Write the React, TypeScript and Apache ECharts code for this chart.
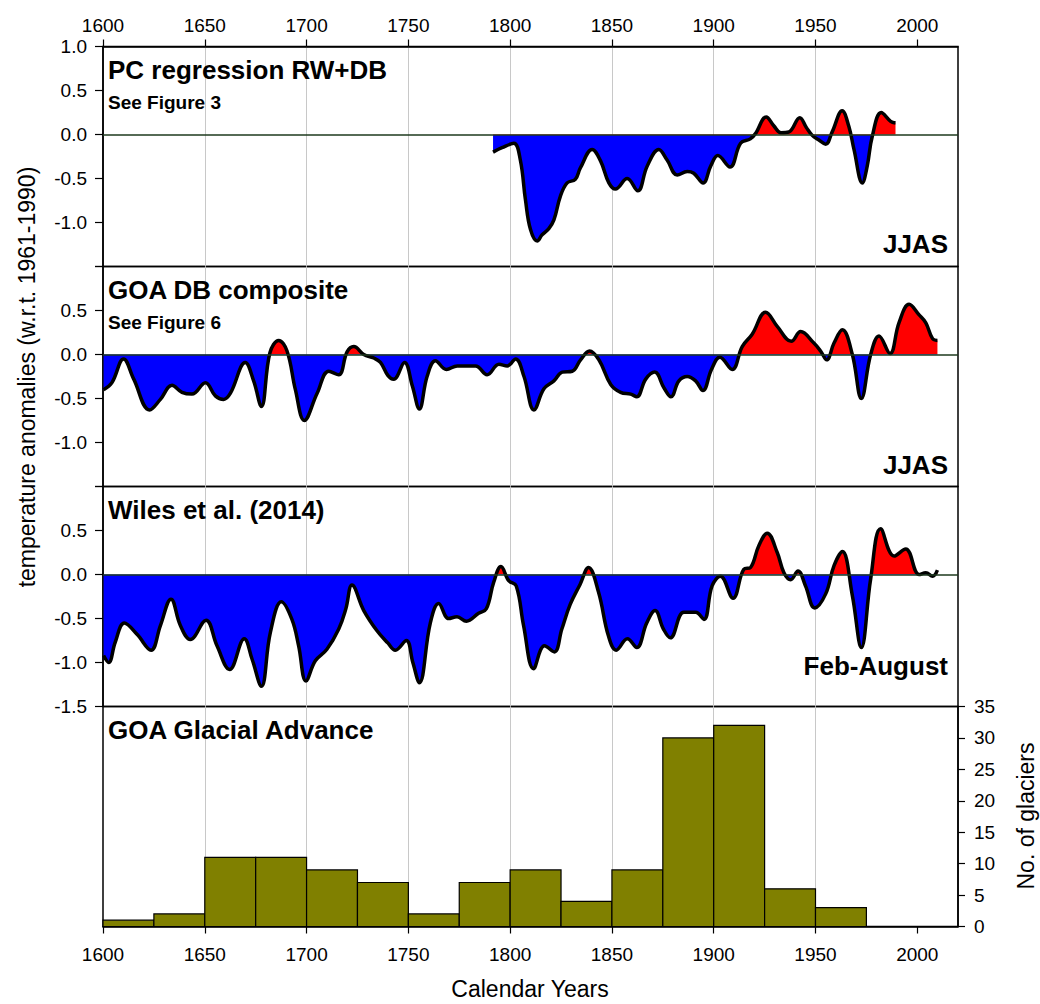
import React, { useEffect, useRef } from "react";
import * as echarts from "echarts";

const FONT = '"Liberation Sans", Arial, Helvetica, sans-serif';

const yearTicks = [1600, 1650, 1700, 1750, 1800, 1850, 1900, 1950, 2000];
const tempTicks = [-1.5, -1.0, -0.5, 0.0, 0.5, 1.0];
const glacierTicks = [0, 5, 10, 15, 20, 25, 30, 35];

const panelTitles = ["PC regression RW+DB", "GOA DB composite", "Wiles et al. (2014)", "GOA Glacial Advance"];
const panelNotes = ["See Figure 3", "See Figure 6"];
const panelSeasons = ["JJAS", "JJAS", "Feb-August"];

// [year, temperature anomaly]
const pcRegression: [number, number][] = [
  [1791.6, -0.2], [1796, -0.15], [1801.8, -0.1], [1805, -0.29], [1807.5, -0.74], [1810, -1.08],
  [1813.3, -1.21], [1815.7, -1.14], [1819, -1.07], [1821.5, -0.97], [1824.7, -0.7], [1828, -0.55],
  [1832, -0.51], [1834.5, -0.38], [1840.3, -0.17], [1844.4, -0.3], [1848.5, -0.55], [1851.7, -0.62],
  [1857.5, -0.5], [1862.7, -0.64], [1867.3, -0.36], [1873, -0.17], [1877.1, -0.29], [1882.1, -0.46],
  [1887, -0.42], [1890.2, -0.44], [1894.8, -0.55], [1898.5, -0.36], [1902, -0.24], [1908, -0.37],
  [1913.2, -0.1], [1918, -0.05], [1920.5, 0.01], [1925.8, 0.2], [1929.5, 0.1], [1933, 0.02],
  [1937, 0.03], [1942.3, 0.19], [1945.5, 0.08], [1948.4, -0.01], [1951.5, -0.06], [1955, -0.11],
  [1958.2, 0.03], [1963.1, 0.27], [1966.4, 0.09], [1968.9, -0.17], [1973, -0.55], [1975.4, -0.36],
  [1977.9, -0.02], [1982.3, 0.25], [1986.9, 0.15], [1989.3, 0.13],
];

const goaDbComposite: [number, number][] = [
  [1600.3, -0.4], [1604.4, -0.32], [1610.1, -0.05], [1615.1, -0.28], [1622.9, -0.63], [1628.2, -0.51],
  [1633.9, -0.35], [1638.8, -0.43], [1643.7, -0.45], [1650.3, -0.32], [1655.2, -0.47], [1659.3, -0.51],
  [1662.6, -0.44], [1669.9, -0.09], [1674, -0.3], [1677.8, -0.59], [1682, 0.02], [1686.3, 0.16],
  [1690.4, 0.04], [1694.5, -0.4], [1698.9, -0.75], [1705.2, -0.44], [1710.9, -0.19], [1715.8, -0.23],
  [1719.9, 0.03], [1723.2, 0.09], [1728.1, 0.0], [1733, -0.04], [1736.3, -0.09], [1740, -0.24],
  [1742.8, -0.28], [1748.1, -0.09], [1752, -0.36], [1755.4, -0.62], [1759.2, -0.25], [1763.3, -0.07],
  [1768.7, -0.17], [1774, -0.13], [1783, -0.13], [1788.7, -0.23], [1794.5, -0.11], [1798.6, -0.13],
  [1802.7, -0.05], [1806.8, -0.25], [1811.7, -0.63], [1816.6, -0.39], [1821.5, -0.3], [1825.6, -0.2],
  [1830.5, -0.19], [1834.6, -0.06], [1839, 0.04], [1843.6, -0.06], [1849.4, -0.34], [1854.3, -0.43],
  [1859.2, -0.45], [1862.2, -0.48], [1866.6, -0.28], [1871, -0.2], [1875.6, -0.38], [1879, -0.48],
  [1882.9, -0.3], [1887, -0.25], [1891.1, -0.3], [1894.7, -0.41], [1898.9, -0.17], [1903, -0.03],
  [1909.1, -0.17], [1914, 0.09], [1918.9, 0.23], [1925.5, 0.48], [1931.2, 0.32], [1938.1, 0.15],
  [1942.7, 0.26], [1949.2, 0.13], [1952.5, 0.04], [1955.5, -0.06], [1959.1, 0.13], [1963.2, 0.28],
  [1968.1, 0.0], [1972.5, -0.5], [1977.1, 0.0], [1981.2, 0.21], [1986.6, 0.01], [1991, 0.36],
  [1996, 0.57], [2000.9, 0.45], [2004.2, 0.36], [2007.5, 0.18], [2009.9, 0.16],
];

const wiles2014: [number, number][] = [
  [1600.3, -0.92], [1602.8, -1.0], [1606, -0.77], [1610.5, -0.55], [1616.7, -0.68], [1623.6, -0.86],
  [1628.2, -0.58], [1633.4, -0.28], [1638, -0.58], [1642.9, -0.74], [1650.6, -0.52], [1656, -0.81],
  [1662.2, -1.08], [1669.4, -0.73], [1673.2, -0.96], [1677.8, -1.27], [1682.2, -0.66], [1687.6, -0.31],
  [1692.8, -0.51], [1696.1, -0.81], [1699.7, -1.21], [1704.3, -0.98], [1710, -0.85], [1715.8, -0.62],
  [1719.3, -0.39], [1722.3, -0.12], [1728.1, -0.41], [1734.6, -0.64], [1740, -0.78], [1743.6, -0.86],
  [1749, -0.75], [1752.2, -1.0], [1755.4, -1.23], [1760.8, -0.55], [1764.9, -0.33], [1769.8, -0.5],
  [1773.9, -0.48], [1778.5, -0.53], [1784.5, -0.44], [1788.3, -0.39], [1791.9, -0.09], [1795.5, 0.09],
  [1799.3, -0.07], [1803, -0.13], [1806.6, -0.58], [1811.5, -1.07], [1816.9, -0.81], [1821.7, -0.88],
  [1825.4, -0.62], [1829.5, -0.34], [1834.4, -0.11], [1838.5, 0.08], [1843.4, -0.2], [1848.3, -0.7],
  [1852.1, -0.86], [1857.6, -0.73], [1862.2, -0.83], [1867.1, -0.55], [1871.2, -0.41], [1875.3, -0.62],
  [1878.7, -0.72], [1885.3, -0.43], [1891.1, -0.43], [1895.2, -0.51], [1899.2, -0.13], [1903.3, -0.02],
  [1909.5, -0.27], [1914.8, 0.06], [1918.1, 0.08], [1922.2, 0.33], [1926.3, 0.47], [1931.2, 0.25],
  [1934.5, 0.02], [1937.8, -0.06], [1941.4, 0.04], [1945.1, -0.13], [1949.6, -0.38], [1955, -0.22],
  [1959.1, 0.1], [1963.2, 0.26], [1968.1, -0.24], [1972.5, -0.83], [1977.1, -0.05], [1982, 0.52],
  [1988.6, 0.21], [1994.3, 0.29], [2000.9, 0.0], [2004.2, 0.02], [2007.5, -0.02], [2009.9, 0.05],
];

const binStarts = [1600, 1625, 1650, 1675, 1700, 1725, 1750, 1775, 1800, 1825, 1850, 1875, 1900, 1925, 1950, 1975];
const glacierCounts = [1, 2, 11, 11, 9, 7, 2, 7, 9, 4, 9, 30, 32, 6, 3, 0];
const binWidth = 25;

const tempSeries = [pcRegression, goaDbComposite, wiles2014];
const hiddenTempLabels = [[-1.5], [1.0, -1.5], [1.0]];

const GRID_LEFT = 103;
const GRID_RIGHT = 82;
const GRID_TOP = 46.5;
const PANEL_H = 220;

function buildOption(): any {
  const grids = [0, 1, 2, 3].map((i) => ({
    left: GRID_LEFT,
    right: GRID_RIGHT,
    top: GRID_TOP + i * PANEL_H,
    height: PANEL_H,
    show: true,
    borderColor: "#000",
    borderWidth: 1.5,
    backgroundColor: "transparent",
  }));

  const xAxes = [0, 1, 2, 3].map((i) => {
    const outer = i === 0 || i === 3;
    return {
      type: "value",
      gridIndex: i,
      min: 1600,
      max: 2020,
      interval: 50,
      position: i === 0 ? "top" : "bottom",
      axisLine: { show: outer, onZero: false, lineStyle: { color: "#000", width: 1.5 } },
      axisTick: { show: outer, length: 7, customValues: yearTicks, lineStyle: { color: "#000", width: 1.2 } },
      axisLabel: {
        show: outer,
        customValues: yearTicks,
        formatter: (v: number) => (v % 50 === 0 ? String(v) : ""),
        fontSize: 19,
        fontFamily: FONT,
        color: "#000",
        margin: i === 0 ? 12 : 18,
      },
      splitLine: { show: true, showMinLine: false, showMaxLine: false, lineStyle: { color: "#c8c8c8", width: 1 } },
    };
  });

  const yAxes: any[] = [0, 1, 2].map((i) => ({
    type: "value",
    gridIndex: i,
    min: tempTicks[0],
    max: tempTicks[tempTicks.length - 1],
    interval: 0.5,
    axisLine: { show: true, onZero: false, lineStyle: { color: "#000", width: 1.5 } },
    axisTick: { show: true, length: 8, lineStyle: { color: "#000", width: 1.2 } },
    axisLabel: {
      fontSize: 19,
      fontFamily: FONT,
      color: "#000",
      margin: 16,
      formatter: (v: number) =>
        hiddenTempLabels[i].some((h) => Math.abs(h - v) < 1e-6) ? "" : (Math.abs(v) < 1e-9 ? 0 : v).toFixed(1),
    },
    splitLine: { show: false },
  }));
  yAxes.push({
    type: "value",
    gridIndex: 3,
    position: "right",
    min: glacierTicks[0],
    max: glacierTicks[glacierTicks.length - 1],
    interval: 5,
    axisLine: { show: true, onZero: false, lineStyle: { color: "#000", width: 1.5 } },
    axisTick: { show: true, length: 7, lineStyle: { color: "#000", width: 1.2 } },
    axisLabel: { fontSize: 19, fontFamily: FONT, color: "#000", margin: 16 },
    splitLine: { show: false },
  });

  const series: any[] = [];
  tempSeries.forEach((data, k) => {
    series.push({
      type: "line",
      xAxisIndex: k,
      yAxisIndex: k,
      data,
      smooth: 0.4,
      symbol: "none",
      lineStyle: { width: 0, opacity: 0 },
      areaStyle: { opacity: 1 },
      z: 2,
      silent: true,
      markLine: {
        silent: true,
        symbol: "none",
        label: { show: false },
        lineStyle: { color: "#1e3a1e", width: 1.5, type: "solid" },
        data: [{ yAxis: 0 }],
      },
    });
    series.push({
      type: "line",
      xAxisIndex: k,
      yAxisIndex: k,
      data,
      smooth: 0.4,
      symbol: "none",
      lineStyle: { color: "#000", width: 3.5 },
      z: 4,
      silent: true,
    });
  });

  series.push({
    type: "custom",
    xAxisIndex: 3,
    yAxisIndex: 3,
    data: binStarts.map((s, i) => [s, glacierCounts[i]]),
    encode: { x: 0, y: 1 },
    renderItem: (params: any, api: any) => {
      const start = api.value(0);
      const count = api.value(1);
      if (!count) return null;
      const p0 = api.coord([start, count]);
      const p1 = api.coord([start + binWidth, 0]);
      return {
        type: "rect",
        shape: { x: p0[0], y: p0[1], width: p1[0] - p0[0], height: p1[1] - p0[1] },
        style: { fill: "#808000", stroke: "#000", lineWidth: 1.2 },
      };
    },
    z: 3,
    silent: true,
  });

  const textEls: any[] = [];
  const titleX = 108;
  panelTitles.forEach((t, i) => {
    textEls.push({
      type: "text",
      x: titleX,
      y: GRID_TOP + i * PANEL_H + 23,
      style: { text: t, fontSize: 26, fontWeight: "bold", fontFamily: FONT, fill: "#000", align: "left", verticalAlign: "middle" },
      z: 10,
    });
  });
  panelNotes.forEach((t, i) => {
    textEls.push({
      type: "text",
      x: titleX,
      y: GRID_TOP + i * PANEL_H + 56,
      style: { text: t, fontSize: 19, fontWeight: "bold", fontFamily: FONT, fill: "#000", align: "left", verticalAlign: "middle" },
      z: 10,
    });
  });
  const seasonOffsets = [197.5, 198.5, 179];
  panelSeasons.forEach((t, i) => {
    textEls.push({
      type: "text",
      x: 948,
      y: GRID_TOP + i * PANEL_H + seasonOffsets[i],
      style: { text: t, fontSize: 26, fontWeight: "bold", fontFamily: FONT, fill: "#000", align: "right", verticalAlign: "middle" },
      z: 10,
    });
  });
  textEls.push({
    type: "text",
    x: 27,
    y: 377,
    rotation: Math.PI / 2,
    style: { text: "temperature anomalies (w.r.t. 1961-1990)", fontSize: 23, fontFamily: FONT, fill: "#000", align: "center", verticalAlign: "middle" },
  });
  textEls.push({
    type: "text",
    x: 1026,
    y: 816,
    rotation: Math.PI / 2,
    style: { text: "No. of glaciers", fontSize: 23, fontFamily: FONT, fill: "#000", align: "center", verticalAlign: "middle" },
  });
  textEls.push({
    type: "text",
    x: 530,
    y: 989,
    style: { text: "Calendar Years", fontSize: 23, fontFamily: FONT, fill: "#000", align: "center", verticalAlign: "middle" },
  });

  return {
    animation: false,
    backgroundColor: "#fff",
    grid: grids,
    xAxis: xAxes,
    yAxis: yAxes,
    visualMap: {
      type: "piecewise",
      show: false,
      dimension: 1,
      seriesIndex: [0, 2, 4],
      pieces: [
        { gte: -5, lt: 0, color: "#0000ff" },
        { gte: 0, lte: 5, color: "#ff0000" },
      ],
    },
    series,
    graphic: textEls,
  };
}

export default function App() {
  const ref = useRef<HTMLDivElement>(null);
  useEffect(() => {
    if (!ref.current) return;
    const chart = echarts.init(ref.current, undefined, { renderer: "svg" });
    chart.setOption(buildOption());
    return () => chart.dispose();
  }, []);
  return <div ref={ref} style={{ position: "absolute", left: 0, top: 0, width: 1040, height: 1004 }} />;
}
